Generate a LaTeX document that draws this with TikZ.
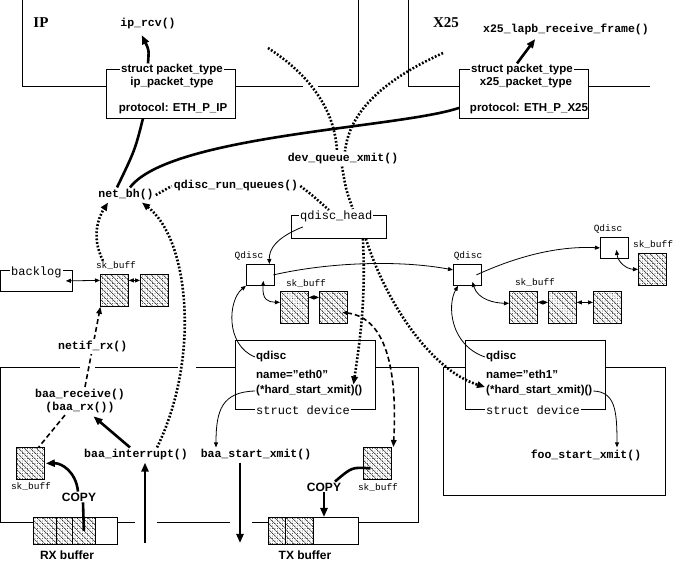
\documentclass[tikz,border=0pt]{standalone}
\usepackage{fontspec}
\setmainfont{Liberation Serif}
\setsansfont{Liberation Sans}
\setmonofont{Liberation Mono}
\usetikzlibrary{arrows.meta,patterns.meta}

\begin{document}
\begin{tikzpicture}[
  x=1pt, y=-1pt,
  wall/.style={line width=0.8pt},
  box/.style={draw, line width=0.8pt, fill=white, inner sep=0pt, anchor=north west},
  hatch/.style={box, postaction={pattern={Lines[angle=-45,distance=4pt,line width=0.5pt]}},
    postaction={pattern={Dots[distance=2.5pt,radius=0.3pt]}}},
  call/.style={font=\ttfamily\bfseries\fontsize{11.5}{13}\selectfont, inner sep=2pt},
  tag/.style={font=\ttfamily\fontsize{9.5}{11}\selectfont, inner sep=1pt},
  title/.style={font=\ttfamily\fontsize{12}{13}\selectfont, fill=white, inner sep=1pt},
  field/.style={font=\sffamily\bfseries\fontsize{11.5}{13}\selectfont, inner sep=1pt},
  capt/.style={font=\sffamily\bfseries\fontsize{12}{13}\selectfont, inner sep=1pt},
  layer/.style={font=\rmfamily\bfseries\fontsize{15}{16}\selectfont},
  arr/.style={line width=0.8pt, -{Triangle[length=5pt,width=4pt]}},
  darr/.style={line width=0.8pt, {Triangle[length=5pt,width=4pt]}-{Triangle[length=5pt,width=4pt]}},
  heavy/.style={line width=2.6pt},
  bigarr/.style={line width=2.6pt, -{Triangle[length=9pt,width=7pt]}},
  dotline/.style={line width=2.6pt, dash pattern=on 1.8pt off 1.8pt},
  dotarr/.style={dotline, -{Triangle[length=8pt,width=6.5pt]}},
  dashline/.style={line width=1.6pt, dash pattern=on 5pt off 3pt}
]
\useasboundingbox (0,0) rectangle (673,561);

\draw[wall] (22,0) -- (22,86) -- (106,86);
\draw[wall] (235,86) -- (303,86);
\draw[wall] (318,86) -- (358,86) -- (358,0);
\draw[wall] (408,0) -- (408,86) -- (459,86);
\draw[wall] (588,86) -- (650,86);
\draw[wall] (80,367) -- (0.5,367) -- (0.5,522) -- (135,522);
\draw[wall] (95,367) -- (178,367);
\draw[wall] (196,367) -- (235,367);
\draw[wall] (375,367) -- (418,367) -- (418,522) -- (252,522);
\draw[wall] (157,522) -- (230,522);
\draw[wall] (443,367) rectangle (665,495);

\node[layer] (ip)  at (41,23)  {IP};
\node[layer] (x25) at (446,23) {X25};

\node[box, minimum width=129pt, minimum height=49pt] (ipbox)  at (106,69) {};
\node[box, minimum width=129pt, minimum height=49pt] (x25box) at (459,69) {};
\node[box, minimum width=72pt, minimum height=21pt]  (backlog) at (0.4,270) {};
\node[box, minimum width=95pt, minimum height=23pt]  (qhead) at (291,215) {};
\node[box, minimum width=140pt, minimum height=69pt] (dev0) at (235,340) {};
\node[box, minimum width=140pt, minimum height=69pt] (dev1) at (465,340) {};
\node[box, minimum width=28pt, minimum height=21pt] (qd0) at (246,264) {};
\node[box, minimum width=28pt, minimum height=21pt] (qd1) at (453,264) {};
\node[box, minimum width=28pt, minimum height=21pt] (qd2) at (600,237) {};

\node[hatch, minimum width=28pt, minimum height=32pt] (skb1) at (100,274) {};
\node[hatch, minimum width=28pt, minimum height=32pt] (skb2) at (140,274) {};
\node[hatch, minimum width=28pt, minimum height=32pt] (sk0a) at (280,291) {};
\node[hatch, minimum width=28pt, minimum height=32pt] (sk0b) at (319,291) {};
\node[hatch, minimum width=28pt, minimum height=32pt] (sk1a) at (509,291) {};
\node[hatch, minimum width=28pt, minimum height=32pt] (sk1b) at (548,291) {};
\node[hatch, minimum width=28pt, minimum height=32pt] (sk1c) at (593,291) {};
\node[hatch, minimum width=28pt, minimum height=32pt] (sk2)  at (638,253) {};
\node[hatch, minimum width=28pt, minimum height=32pt] (skrx) at (16,447) {};
\node[hatch, minimum width=28pt, minimum height=32pt] (sktx) at (363,447) {};

\node[hatch, minimum width=23pt, minimum height=27pt] (rx1) at (33,517) {};
\node[hatch, minimum width=16pt, minimum height=27pt] (rx2) at (56,517) {};
\node[hatch, minimum width=23pt, minimum height=27pt] (rx3) at (72,517) {};
\node[box,   minimum width=22pt, minimum height=27pt] (rx4) at (95,517) {};
\node[hatch, minimum width=17pt, minimum height=27pt] (tx1) at (268,517) {};
\node[hatch, minimum width=28pt, minimum height=27pt] (tx2) at (285,517) {};
\node[box,   minimum width=45pt, minimum height=27pt] (tx3) at (313,517) {};

\node[field, fill=white] (ipst)    at (172,70)  {struct packet\_type};
\node[field]             (ipname)  at (172,83)  {ip\_packet\_type};
\node[field]             (ipproto) at (173,109) {protocol: ETH\_P\_IP};
\node[field, fill=white] (x25st)    at (522,70)  {struct packet\_type};
\node[field]             (x25name)  at (526,83)  {x25\_packet\_type};
\node[field]             (x25proto) at (529,109) {protocol: ETH\_P\_X25};

\node[field, anchor=west] (q0) at (255,357) {qdisc};
\node[field, anchor=west] (n0) at (255,374) {name="eth0"};
\node[field, anchor=west] (h0) at (255,391) {(*hard\_start\_xmit)()};
\node[title, anchor=west] (sd0) at (255,410) {struct device};
\node[field, anchor=west] (q1) at (485,357) {qdisc};
\node[field, anchor=west] (n1) at (485,374) {name="eth1"};
\node[field, anchor=west] (h1) at (485,391) {(*hard\_start\_xmit)()};
\node[title, anchor=west] (sd1) at (485,410) {struct device};

\node[title, anchor=west] (backl)  at (10,272)  {backlog};
\node[title, anchor=west] (qheadl) at (299,216) {qdisc\_head};

\node[tag] (qd0l) at (249,256) {Qdisc};
\node[tag] (qd1l) at (468,256) {Qdisc};
\node[tag] (qd2l) at (608,229) {Qdisc};
\node[tag] (skbl)  at (116,266) {sk\_buff};
\node[tag] (sk0l)  at (306,284) {sk\_buff};
\node[tag] (sk1l)  at (535,283) {sk\_buff};
\node[tag] (sk2l)  at (653,245) {sk\_buff};
\node[tag] (skrxl) at (31,487)  {sk\_buff};
\node[tag] (sktxl) at (378,488) {sk\_buff};

\node[call] (iprcv) at (148,24)  {ip\_rcv()};
\node[call] (x25rx) at (566,29)  {x25\_lapb\_receive\_frame()};
\node[call] (netbh) at (126,195) {net\_bh()};
\node[call] (qrq)   at (236,186) {qdisc\_run\_queues()};
\node[call] (dqx)   at (343,159) {dev\_queue\_xmit()};
\node[call, align=center] (brecv) at (80,401) {baa\_receive()\\(baa\_rx())};
\node[call] (bint)  at (136,455) {baa\_interrupt()};
\node[call] (bxmit) at (256,455) {baa\_start\_xmit()};
\node[call] (foo)   at (586,455) {foo\_start\_xmit()};

\node[capt] (copyrx) at (79,497)  {COPY};
\node[capt] (copytx) at (324,487) {COPY};
\node[capt] (rxl)    at (67,555)  {RX buffer};
\node[capt] (txl)    at (305,555) {TX buffer};

\coordinate (ipout)  at (268,48);
\coordinate (x25out) at (443,53);
\coordinate (irqin)  at (145,543);
\coordinate (txout)  at (240,543);

\draw[bigarr, shorten >=4pt] ([xshift=-24pt]ipst.north) .. controls (149,50) .. ([xshift=-8pt]iprcv.south);
\draw[bigarr, shorten >=3pt] ([xshift=-5pt]x25st.north) -- ([xshift=-29pt]x25rx.south);
\draw[heavy] ([xshift=-28pt]ipbox.south) .. controls (135,150) .. ([xshift=-9pt]netbh.north);
\draw[heavy] ([yshift=-14pt]x25box.west) .. controls (400,128) and (170,135) .. ([xshift=4pt]netbh.north);

\draw[dotline] (ipout) .. controls (310,75) and (335,110) .. ([xshift=-6pt]dqx.north);
\draw[dotline] (x25out) .. controls (395,75) and (350,105) .. ([xshift=2pt]dqx.north);
\draw[dotline] ([xshift=-1pt]dqx.south) .. controls (346,190) .. ([shift={(14pt,6pt)}]qhead.north);
\draw[dotline] (netbh.east) -- (qrq.west);
\draw[dotline] (qrq.east) .. controls (312,195) .. ([shift={(-10pt,5pt)}]qhead.north);
\draw[dotarr] ([xshift=24pt]qhead.south) .. controls (366,300) and (360,340) .. ([xshift=-10pt]h0.north east);
\draw[dotarr] ([xshift=27pt]qhead.south) .. controls (385,300) and (430,370) .. ([yshift=4pt]h1.west);
\draw[dotarr] ([xshift=-13pt]skbl.north) .. controls (90,235) and (100,215) .. ([xshift=-18pt]netbh.south);
\draw[dotarr] ([xshift=21pt]bint.north) .. controls (200,360) and (190,240) .. ([xshift=16pt]netbh.south);

\draw[dashline, -{Triangle[length=7pt,width=5.5pt]}] ([xshift=5pt]brecv.north) -- node[call, fill=white] (netif) {netif\_rx()} ([xshift=-14pt]skb1.south);
\draw[dashline] ([xshift=-15pt]brecv.south) -- ([xshift=-6pt]skrx.north east);
\draw[dashline, {Triangle[length=5pt,width=4pt]}-{Triangle[length=7pt,width=5.5pt]}] ([shift={(9pt,-5pt)}]sk0b.center) .. controls (390,318) and (397,380) .. ([xshift=16pt]sktx.north);

\draw[bigarr, shorten >=2pt] ([xshift=-6pt]bint.north) -- ([xshift=12pt]brecv.south);
\draw[heavy] (rx3.center) -- ([xshift=4pt]copyrx.south);
\draw[bigarr] ([xshift=-1pt]copyrx.north) .. controls (76,472) and (62,463) .. ([xshift=1pt]skrx.east);
\draw[heavy] ([shift={(-7pt,-5pt)}]sktx.center) .. controls (352,467) .. ([xshift=11pt]copytx.north);
\draw[bigarr] (copytx.south) -- (copytx.south |- tx3.north);
\draw[bigarr] (irqin) -- (irqin |- bint.south);
\draw[bigarr] (txout |- bxmit.south) -- (txout);

\draw[arr] (h0.west) .. controls (222,392) and (216,410) .. ([xshift=-40pt]bxmit.north);
\draw[arr] (h1.east) .. controls (615,392) and (617,410) .. ([xshift=31pt]foo.north);
\draw[arr] (q0.west) .. controls (225,345) and (228,300) .. (qd0.south west);
\draw[arr] (q1.west) .. controls (450,345) and (447,305) .. ([xshift=5pt]qd1.south west);
\draw[arr] ([xshift=-36pt]qhead.center) .. controls (275,238) and (269,250) .. ([xshift=9pt]qd0.north);
\draw[arr] ([xshift=13pt]qd0.center) .. controls (330,262) and (400,260) .. ([yshift=5pt]qd1.west);
\draw[arr] ([xshift=9pt]qd1.center) .. controls (520,255) and (560,246) .. (qd2.west);
\draw[darr] ([shift={(3pt,-6pt)}]qd0.center) .. controls (262,300) and (268,302) .. ([yshift=5pt]sk0a.west);
\draw[darr] ([shift={(5pt,-7pt)}]qd1.center) .. controls (478,300) and (495,303) .. ([yshift=4pt]sk1a.west);
\draw[darr] ([shift={(2pt,-2pt)}]qd2.center) .. controls (618,262) and (626,269) .. (sk2.west);
\draw[darr] ([yshift=10pt]skb1.east) -- ([yshift=10pt]skb2.west);
\draw[darr] ([yshift=10pt]sk0a.east) -- ([yshift=10pt]sk0b.west);
\draw[darr] ([yshift=5pt]sk1a.east) -- ([yshift=5pt]sk1b.west);
\draw[darr] ([yshift=5pt]sk1b.east) -- ([yshift=5pt]sk1c.west);
\draw[darr] ([xshift=29pt]backlog.center) -- ([yshift=10pt]skb1.west);
\end{tikzpicture}
\end{document}
